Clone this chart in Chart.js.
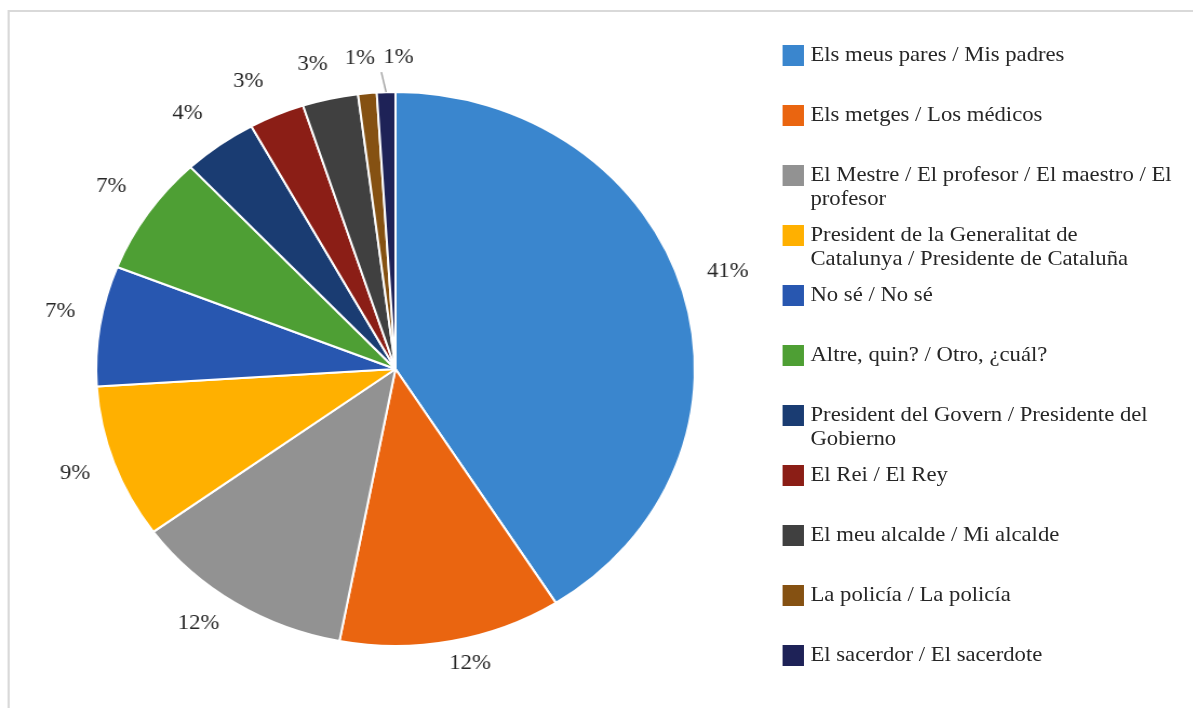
<!DOCTYPE html>
<html>
<head>
<meta charset="utf-8">
<script src="https://cdn.jsdelivr.net/npm/chart.js@4.4.0/dist/chart.umd.min.js"></script>
<style>
  html, body { margin: 0; padding: 0; background: #fff; overflow: hidden; }
  #stage {
    position: relative;
    width: 1104px;
    height: 708px;
    transform: scaleX(1.0806);
    transform-origin: 0 0;
  }
  #frame {
    position: absolute;
    left: 7px;
    top: 10px;
    width: 1200px;
    height: 800px;
    border: 2px solid #d9d9d9;
  }
  #pie { position: absolute; left: 0; top: 0; }
  .item { position: absolute; left: 724px; }
  .swatch { position: absolute; left: 0; top: 0; width: 19.5px; height: 21px; }
  .text {
    position: absolute;
    left: 26px;
    top: -1.3px;
    font: 21px/23.5px "Liberation Serif", "Times New Roman", serif;
    color: #262626;
    white-space: nowrap;
  }
</style>
</head>
<body>
<div id="stage">
  <div id="frame"></div>
  <canvas id="pie" width="1104" height="708"></canvas>
  <div id="legend"></div>
</div>
<script>
// answer categories (legend text, line by line)
var categories = [
    ['Els meus pares / Mis padres'],
    ['Els metges / Los médicos'],
    ['El Mestre / El profesor / El maestro / El', 'profesor'],
    ['President de la Generalitat de', 'Catalunya / Presidente de Cataluña'],
    ['No sé / No sé'],
    ['Altre, quin? / Otro, ¿cuál?'],
    ['President del Govern / Presidente del', 'Gobierno'],
    ['El Rei / El Rey'],
    ['El meu alcalde / Mi alcalde'],
    ['La policía / La policía'],
    ['El sacerdor / El sacerdote']
];

// share of answers, percent
var shares = [41, 12, 12, 9, 7, 7, 4, 3, 3, 1, 1];

var sliceColors = ['#3a86ce', '#ea6510', '#929292', '#ffb000', '#2857b0', '#4e9f34',
                   '#1a3c72', '#8b1e16', '#404040', '#855112', '#1e2257'];

// percent labels outside each slice, nudged apart when they collide
var pctLabels = {
    id: 'pctLabels',
    afterDatasetsDraw: function (chart) {
        var ctx = chart.ctx;
        var arcs = chart.getDatasetMeta(0).data;
        var placed = [];
        var sat = function (v) { return Math.max(-1, Math.min(1, v * 3)); };
        ctx.save();
        ctx.font = '21px "Liberation Serif", "Times New Roman", serif';
        ctx.fillStyle = '#262626';
        ctx.textAlign = 'center';
        ctx.textBaseline = 'middle';
        arcs.forEach(function (arc, i) {
            var text = shares[i] + '%';
            var mid = (arc.startAngle + arc.endAngle) / 2;
            var cos = Math.cos(mid), sin = Math.sin(mid);
            var w = ctx.measureText(text).width;
            var r = arc.outerRadius + 18;
            var x = arc.x + cos * r + sat(cos) * (w / 2 + 5);
            var y = arc.y + sin * r + sat(sin) * 11 - 6;
            var box = { l: x - w / 2, r: x + w / 2, t: y - 9, b: y + 9 };
            var moved = false;
            placed.forEach(function (p) {
                if (box.l < p.r && box.r > p.l && box.t < p.b && box.b > p.t) {
                    x = p.r + 8 + w / 2;
                    box.l = x - w / 2;
                    box.r = x + w / 2;
                    moved = true;
                }
            });
            if (moved) {
                ctx.strokeStyle = '#a6a6a6';
                ctx.lineWidth = 1.5;
                ctx.beginPath();
                ctx.moveTo(box.l - 2, y + 15);
                ctx.lineTo(arc.x + cos * arc.outerRadius, arc.y + sin * arc.outerRadius);
                ctx.stroke();
            }
            placed.push(box);
            ctx.fillText(text, x, y);
        });
        ctx.restore();
    }
};

new Chart(document.getElementById('pie'), {
    type: 'pie',
    data: {
        labels: categories,
        datasets: [{
            data: shares,
            backgroundColor: sliceColors,
            borderColor: '#ffffff',
            borderWidth: 2,
            radius: 277
        }]
    },
    options: {
        responsive: false,
        animation: false,
        devicePixelRatio: 1,
        events: [],
        layout: { padding: { left: 0, right: 372, top: 30, bottom: 0 } },
        plugins: {
            legend: { display: false },
            tooltip: { enabled: false }
        }
    },
    plugins: [pctLabels]
});

// legend on the right, one row per category
var legend = document.getElementById('legend');
categories.forEach(function (lines, i) {
    var item = document.createElement('div');
    item.className = 'item';
    item.style.top = (44.5 + 60 * i) + 'px';
    var sw = document.createElement('div');
    sw.className = 'swatch';
    sw.style.background = sliceColors[i];
    var tx = document.createElement('div');
    tx.className = 'text';
    tx.innerHTML = lines.join('<br>');
    item.appendChild(sw);
    item.appendChild(tx);
    legend.appendChild(item);
});
</script>
</body>
</html>
